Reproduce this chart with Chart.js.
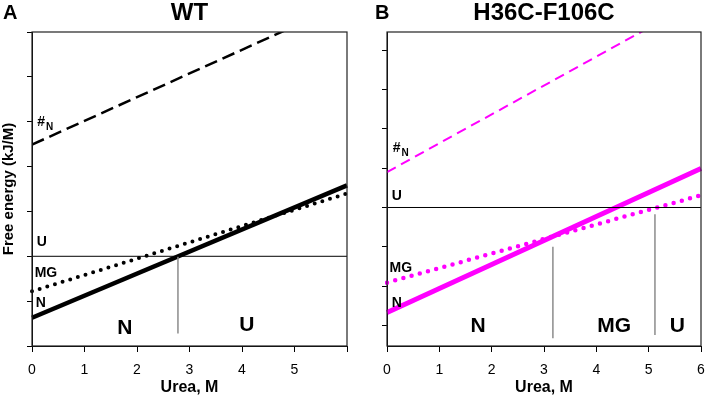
<!DOCTYPE html>
<html>
<head>
<meta charset="utf-8">
<script src="https://cdn.jsdelivr.net/npm/chart.js@4.4.0/dist/chart.umd.min.js"></script>
<style>
    html, body { margin: 0; padding: 0; background: #fff; }
    #wrap { position: relative; width: 706px; height: 399px; }
    #chartA { position: absolute; left: 0; top: 0; }
    #chartB { position: absolute; left: 360px; top: 0; }
</style>
</head>
<body>
<div id="wrap">
    <canvas id="chartA" width="360" height="399"></canvas>
    <canvas id="chartB" width="346" height="399"></canvas>
</div>
<script>
// Urea range used for every free energy line (M)
const urea = [0, 6];
const xTickLabels = ['0', '1', '2', '3', '4', '5', '6'];

// Panel A - WT (free energy relative to U, in y-tick units)
const wtNative = [-1.37, 1.58];
const wtMoltenGlobule = [-0.78, 1.40];
const wtTransitionState = [2.49, 5.66];
const wtUnfolded = [0, 0];
const wtMidpoints = [2.78];
const wtMidpointSpans = [[0, -1.72]];

// Panel B - H36C-F106C
const mutNative = [-2.67, 0.99];
const mutMoltenGlobule = [-1.91, 0.31];
const mutTransitionState = [0.90, 5.30];
const mutUnfolded = [0, 0];
const mutMidpoints = [3.17, 5.12];
const mutMidpointSpans = [[-1.0, -3.32], [-0.17, -3.24]];

const FONT = "'Liberation Sans', Arial, Helvetica, sans-serif";
const MAGENTA = '#ff00ff';

function pts(ys) {
    return urea.map((x, i) => ({ x: x, y: ys[i] }));
}

function midpointSets(xs, spans) {
    return xs.map((x, i) => ({
        data: spans[i].map(y => ({ x: x, y: y })),
        borderColor: '#8c8c8c',
        borderWidth: 1.5
    }));
}

// draws the frame, panel letter, title and the state labels
const panelText = {
    id: 'panelText',
    afterDraw(chart, args, opts) {
        const ctx = chart.ctx;
        const area = chart.chartArea;
        const xs = chart.scales.x;
        const ys = chart.scales.y;
        ctx.save();
        ctx.strokeStyle = '#222';
        ctx.lineWidth = 1.2;
        ctx.strokeRect(area.left, area.top, area.right - area.left, area.bottom - area.top);

        ctx.fillStyle = '#000';
        ctx.textBaseline = 'middle';
        ctx.textAlign = 'left';
        ctx.font = 'bold 20px ' + FONT;
        ctx.fillText(opts.letter, opts.letterX, 13);
        ctx.textAlign = 'center';
        ctx.font = 'bold 24px ' + FONT;
        ctx.fillText(opts.title, (area.left + area.right) / 2, 13);

        opts.labels.forEach(l => {
            const px = xs.getPixelForValue(l.x);
            const py = ys.getPixelForValue(l.y);
            ctx.font = 'bold 14px ' + FONT;
            ctx.textAlign = 'left';
            ctx.fillText(l.text, px, py);
            if (l.sub) {
                const w = ctx.measureText(l.text).width;
                ctx.font = 'bold 10px ' + FONT;
                ctx.fillText(l.sub, px + w + 1, py + 5);
            }
        });
        opts.regions.forEach(l => {
            ctx.font = 'bold 21px ' + FONT;
            ctx.textAlign = 'center';
            ctx.fillText(l.text, xs.getPixelForValue(l.x), ys.getPixelForValue(l.y));
        });
        ctx.restore();
    }
};

function makeChart(id, cfg) {
    const datasets = [
        { data: pts(cfg.unfolded), borderColor: '#000', borderWidth: 1 },
        ...midpointSets(cfg.midpoints, cfg.spans),
        { data: pts(cfg.transition), borderColor: cfg.color, borderWidth: cfg.dashWidth, borderDash: cfg.dash, clip: 0 },
        { data: pts(cfg.mg), borderColor: cfg.color, borderWidth: cfg.dotSize, borderDash: [0, cfg.dotGap], borderCapStyle: 'round', clip: 2 },
        { data: pts(cfg.native), borderColor: cfg.color, borderWidth: cfg.solidWidth, clip: 2 }
    ];
    datasets.forEach(d => { d.showLine = true; d.pointRadius = 0; d.fill = false; });

    return new Chart(document.getElementById(id), {
        type: 'scatter',
        data: { datasets: datasets },
        options: {
            responsive: false,
            animation: false,
            layout: { padding: { left: 0, right: cfg.padRight, top: 32, bottom: 0 } },
            plugins: {
                legend: { display: false },
                tooltip: { enabled: false },
                panelText: cfg.text
            },
            scales: {
                x: {
                    type: 'linear',
                    min: 0,
                    max: 6,
                    afterBuildTicks: s => { s.ticks = xTickLabels.map(v => ({ value: Number(v) })); },
                    afterFit: s => { s.height = 53; s.paddingLeft = 0; s.paddingRight = 0; },
                    ticks: {
                        color: '#000',
                        font: { family: FONT, size: 14 },
                        padding: 10,
                        maxRotation: 0,
                        callback: (v, i) => (cfg.hideLastX && v === 6) ? '' : xTickLabels[i]
                    },
                    grid: { drawOnChartArea: false, drawTicks: true, tickLength: 6, color: '#000' },
                    border: { color: '#000', width: 1 },
                    title: {
                        display: true,
                        text: 'Urea, M',
                        color: '#000',
                        font: { family: FONT, size: 16, weight: 'bold' },
                        padding: { top: 0, bottom: 2 }
                    }
                },
                y: {
                    type: 'linear',
                    min: cfg.yMin,
                    max: cfg.yMax,
                    afterBuildTicks: s => { s.ticks = cfg.yTicks.map(v => ({ value: v })); },
                    afterFit: s => { s.width = cfg.yWidth; s.paddingTop = 0; s.paddingBottom = 0; },
                    ticks: { display: false },
                    grid: { drawOnChartArea: false, drawTicks: true, tickLength: 5, color: '#000' },
                    border: { color: '#000', width: 1 },
                    title: {
                        display: cfg.yTitle !== '',
                        text: cfg.yTitle,
                        color: '#000',
                        font: { family: FONT, size: 15, weight: 'bold' },
                        padding: { top: 0, bottom: 0 }
                    }
                }
            }
        },
        plugins: [panelText]
    });
}

makeChart('chartA', {
    native: wtNative, mg: wtMoltenGlobule, transition: wtTransitionState, unfolded: wtUnfolded,
    midpoints: wtMidpoints, spans: wtMidpointSpans,
    color: '#000', solidWidth: 4.5, dotSize: 4, dotGap: 8, dash: [13, 6], dashWidth: 2.5,
    yMin: -2, yMax: 5, yTicks: [-2, -1, 0, 1, 2, 3, 4, 5], yWidth: 32, padRight: 13,
    yTitle: 'Free energy (kJ/M)', hideLastX: true,
    text: {
        letter: 'A', letterX: 3, title: 'WT',
        labels: [
            { text: '#', sub: 'N', x: 0.1, y: 2.98 },
            { text: 'U', x: 0.09, y: 0.31 },
            { text: 'MG', x: 0.05, y: -0.38 },
            { text: 'N', x: 0.07, y: -1.05 }
        ],
        regions: [
            { text: 'N', x: 1.77, y: -1.6 },
            { text: 'U', x: 4.09, y: -1.54 }
        ]
    }
});

makeChart('chartB', {
    native: mutNative, mg: mutMoltenGlobule, transition: mutTransitionState, unfolded: mutUnfolded,
    midpoints: mutMidpoints, spans: mutMidpointSpans,
    color: MAGENTA, solidWidth: 5, dotSize: 4.5, dotGap: 8.5, dash: [10, 6], dashWidth: 2,
    yMin: -3.52, yMax: 4.46, yTicks: [-3, -2, -1, 0, 1, 2, 3, 4], yWidth: 27, padRight: 5,
    yTitle: '', hideLastX: false,
    text: {
        letter: 'B', letterX: 15, title: 'H36C-F106C',
        labels: [
            { text: '#', sub: 'N', x: 0.11, y: 1.5 },
            { text: 'U', x: 0.09, y: 0.28 },
            { text: 'MG', x: 0.05, y: -1.53 },
            { text: 'N', x: 0.09, y: -2.42 }
        ],
        regions: [
            { text: 'N', x: 1.74, y: -3.01 },
            { text: 'MG', x: 4.34, y: -3.01 },
            { text: 'U', x: 5.55, y: -3.01 }
        ]
    }
});
</script>
</body>
</html>
